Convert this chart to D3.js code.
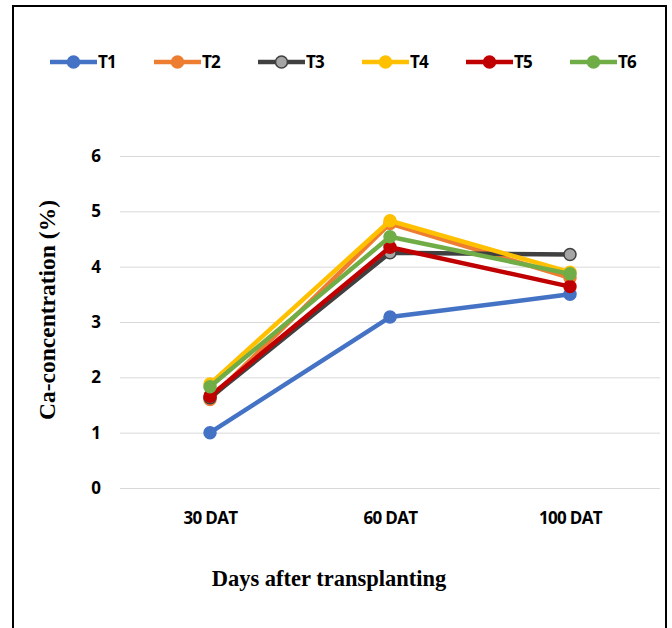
<!DOCTYPE html>
<html>
<head>
<meta charset="utf-8">
<script src="https://cdn.jsdelivr.net/npm/d3@7/dist/d3.min.js"></script>
<style>
  body { margin: 0; background: #fff; }
</style>
</head>
<body>
<div id="chart"></div>
<script>
// data
const categories = ["30 DAT", "60 DAT", "100 DAT"];
const seriesNames = ["T1", "T2", "T3", "T4", "T5", "T6"];
const T1 = [1.0, 3.09, 3.5];
const T2 = [1.6, 4.78, 3.8];
const T3 = [1.63, 4.25, 4.22];
const T4 = [1.88, 4.83, 3.9];
const T5 = [1.66, 4.35, 3.64];
const T6 = [1.83, 4.54, 3.87];
const yTicks = [0, 1, 2, 3, 4, 5, 6];

const seriesValues = [T1, T2, T3, T4, T5, T6];
const colors = ["#4472C4", "#ED7D31", "#404040", "#FFC000", "#C00000", "#70AD47"];
const markerFill = ["#4472C4", "#ED7D31", "#A5A5A5", "#FFC000", "#C00000", "#70AD47"];

const width = 672, height = 628;
const plot = {left: 120, right: 660, top: 156, bottom: 488};

const svg = d3.select("#chart").append("svg")
    .attr("width", width)
    .attr("height", height);

// outer frame
svg.append("rect")
    .attr("x", 13).attr("y", 6)
    .attr("width", 653).attr("height", 640)
    .attr("fill", "#fff")
    .attr("stroke", "#000")
    .attr("stroke-width", 2);

const x = d3.scalePoint()
    .domain(categories)
    .range([plot.left, plot.right])
    .padding(0.5);

const y = d3.scaleLinear()
    .domain([0, 6])
    .range([plot.bottom, plot.top]);

// gridlines + y labels
const yAxis = svg.append("g")
    .attr("transform", `translate(${plot.left},0)`)
    .call(d3.axisLeft(y).tickValues(yTicks).tickFormat(d3.format("d"))
        .tickSize(-(plot.right - plot.left)).tickPadding(19));
yAxis.select(".domain").remove();
yAxis.selectAll(".tick line").attr("stroke", "#D9D9D9").attr("stroke-width", 1);
yAxis.selectAll(".tick text")
    .style("font-family", "'Open Sans', sans-serif")
    .style("font-size", "17px")
    .style("font-weight", "bold")
    .attr("fill", "#000");

// x labels
const xAxis = svg.append("g")
    .attr("transform", `translate(0,${plot.bottom})`)
    .call(d3.axisBottom(x).tickSize(0).tickPadding(24));
xAxis.select(".domain").remove();
xAxis.selectAll(".tick text")
    .style("font-family", "'Open Sans', sans-serif")
    .style("font-size", "17px")
    .style("font-weight", "bold")
    .style("letter-spacing", "-0.7px")
    .attr("fill", "#000");

// axis titles
svg.append("text")
    .attr("x", 329).attr("y", 586)
    .attr("text-anchor", "middle")
    .style("font-family", "'Liberation Serif', serif")
    .style("font-size", "22.5px")
    .style("font-weight", "bold")
    .text("Days after transplanting");

svg.append("text")
    .attr("transform", "translate(55,310) rotate(-90)")
    .attr("text-anchor", "middle")
    .style("font-family", "'Liberation Serif', serif")
    .style("font-size", "23.5px")
    .style("font-weight", "bold")
    .text("Ca-concentration (%)");

// lines and markers
const line = d3.line()
    .x((d, i) => x(categories[i]))
    .y(d => y(d));

seriesValues.forEach((vals, s) => {
    const g = svg.append("g");
    g.append("path")
        .datum(vals)
        .attr("d", line)
        .attr("fill", "none")
        .attr("stroke", colors[s])
        .attr("stroke-width", 4.5)
        .attr("stroke-linejoin", "round");
    g.selectAll("circle")
        .data(vals)
        .join("circle")
        .attr("cx", (d, i) => x(categories[i]))
        .attr("cy", d => y(d))
        .attr("r", 6)
        .attr("fill", markerFill[s])
        .attr("stroke", colors[s])
        .attr("stroke-width", 1.5);
});

// legend
const legend = svg.append("g").attr("transform", "translate(50,62)");
seriesNames.forEach((name, s) => {
    const item = legend.append("g").attr("transform", `translate(${s * 104},0)`);
    item.append("line")
        .attr("x1", 0).attr("x2", 47)
        .attr("stroke", colors[s])
        .attr("stroke-width", 4.5);
    item.append("circle")
        .attr("cx", 23.5).attr("r", 6)
        .attr("fill", markerFill[s])
        .attr("stroke", colors[s])
        .attr("stroke-width", 1.5);
    item.append("text")
        .attr("x", 48).attr("dy", "0.36em")
        .style("font-family", "'Open Sans', sans-serif")
        .style("font-size", "17px")
        .style("font-weight", "bold")
        .style("letter-spacing", "-0.8px")
        .text(name);
});
</script>
</body>
</html>
